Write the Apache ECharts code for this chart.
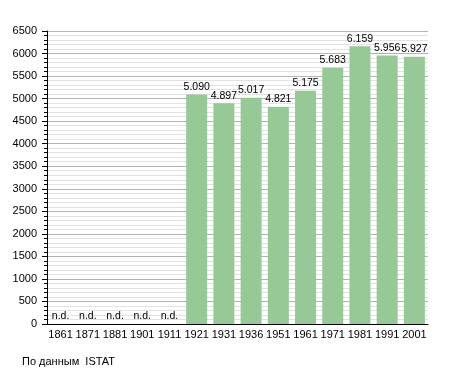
<!DOCTYPE html>
<html><head><meta charset="utf-8">
<script src="https://cdn.jsdelivr.net/npm/echarts@6/dist/echarts.min.js"></script>
<style>html,body{margin:0;padding:0;background:#fff}#c{width:455px;height:373px}</style>
</head><body><div id="c"></div>
<script>
var years = ['1861','1871','1881','1901','1911','1921','1931','1936','1951','1961','1971','1981','1991','2001'];
var population = [null,null,null,null,null,5090,4897,5017,4821,5175,5683,6159,5956,5927];
var yTicks = [0,500,1000,1500,2000,2500,3000,3500,4000,4500,5000,5500,6000,6500];
var sourceNote = 'По данным  ISTAT';

function fmt(v){ return String(v).replace(/\B(?=(\d{3})+(?!\d))/g,'.'); }
var font = 'Liberation Sans, Arial, sans-serif';
var chart = echarts.init(document.getElementById('c'), null, {renderer:'canvas'});
chart.setOption({
  animation:false,
  backgroundColor:'#fff',
  title:{text:sourceNote,left:22,top:356,padding:0,textStyle:{fontSize:11,fontWeight:'normal',color:'#000',fontFamily:font}},
  grid:{left:47,right:27,top:31,bottom:49,containLabel:false},
  xAxis:{type:'category',data:years,boundaryGap:true,
    axisLine:{show:true,lineStyle:{color:'#000',width:1}},
    axisTick:{show:false},
    axisLabel:{color:'#000',fontSize:11,fontFamily:font,margin:5,interval:0}},
  yAxis:{type:'value',min:yTicks[0],max:yTicks[yTicks.length-1],interval:500,
    axisLine:{show:true,lineStyle:{color:'#000',width:1}},
    axisTick:{show:true,length:5,inside:false,lineStyle:{color:'#000'}},
    minorTick:{show:true,splitNumber:5,length:3,lineStyle:{color:'#000'}},
    splitLine:{show:true,lineStyle:{color:'#b4b4b4',width:1}},
    minorSplitLine:{show:true,lineStyle:{color:'#e2e2e2',width:1}},
    axisLabel:{color:'#000',fontSize:11,fontFamily:font,margin:10,
      formatter:function(v){return String(v);}}},
  series:[{type:'bar',barWidth:21,
    data:population.map(function(v){
      return v===null ? {value:0,label:{formatter:'n.d.'}} : {value:v};
    }),
    itemStyle:{color:'#97c997'},
    label:{show:true,position:'top',distance:2,color:'#000',fontSize:10.5,fontFamily:font,
      formatter:function(p){return fmt(p.value);}}
  }]
});
</script></body></html>
